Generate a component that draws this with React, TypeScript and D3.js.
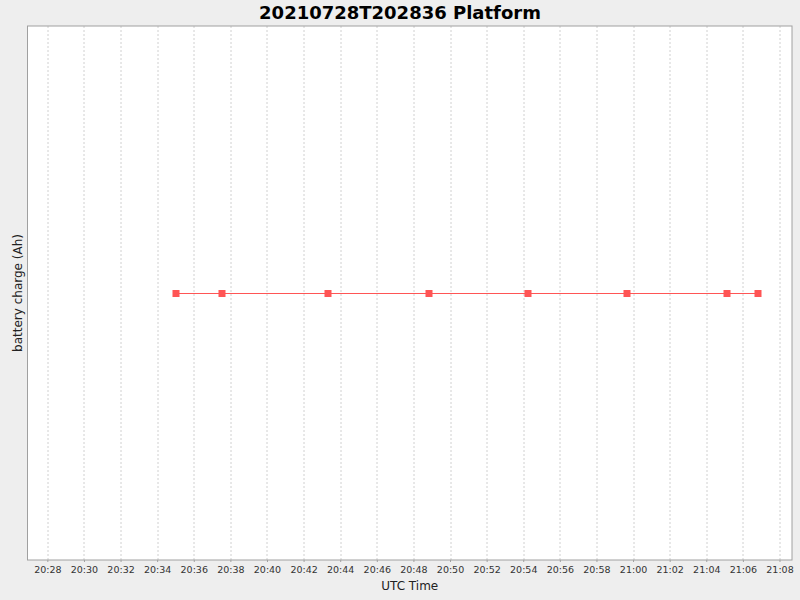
import { useEffect, useRef } from 'react';
import * as d3 from 'd3';

// sample times (UTC) and battery charge readings
const sampleTimes = [
	'2021-07-28T20:35:00Z',
	'2021-07-28T20:37:30Z',
	'2021-07-28T20:43:18Z',
	'2021-07-28T20:48:48Z',
	'2021-07-28T20:54:14Z',
	'2021-07-28T20:59:38Z',
	'2021-07-28T21:05:06Z',
	'2021-07-28T21:06:48Z',
];
const chargeValues = [100, 100, 100, 100, 100, 100, 100, 100];

const chartTitle = '20210728T202836 Platform';
const xLabel = 'UTC Time';
const yLabel = 'battery charge (Ah)';

const App = () => {
	const svgRef = useRef<SVGSVGElement>(null);

	useEffect(() => {
		if (!svgRef.current) return;
		const width = 800;
		const height = 600;
		const margin = { top: 26, right: 8, bottom: 40, left: 27.5 };
		const chartWidth = width - margin.left - margin.right;
		const chartHeight = height - margin.top - margin.bottom;

		const svg = d3.select(svgRef.current);
		svg.selectAll('*').remove();

		svg.append('rect').attr('width', width).attr('height', height).attr('fill', '#eeeeee');

		const data = sampleTimes.map((t, i) => ({ date: new Date(t), value: chargeValues[i] }));

		const xScale = d3
			.scaleUtc()
			.domain([new Date('2021-07-28T20:26:55Z'), new Date('2021-07-28T21:08:41Z')])
			.range([0, chartWidth]);

		const yScale = d3.scaleLinear().domain([99, 101]).range([chartHeight, 1]);

		const g = svg.append('g').attr('transform', `translate(${margin.left},${margin.top})`);

		g.append('rect').attr('width', chartWidth).attr('height', chartHeight).attr('fill', '#ffffff');

		const ticks = xScale.ticks(d3.utcMinute.every(2)!);

		// grid lines
		g.append('g')
			.selectAll('line')
			.data(ticks)
			.join('line')
			.attr('x1', (d) => Math.round(xScale(d)) + 0.5)
			.attr('x2', (d) => Math.round(xScale(d)) + 0.5)
			.attr('y1', 0)
			.attr('y2', chartHeight)
			.attr('stroke', '#d0d0d0')
			.attr('stroke-width', 1)
			.attr('stroke-dasharray', '2,2');

		// line
		const line = d3
			.line<{ date: Date; value: number }>()
			.x((d) => xScale(d.date))
			.y((d) => yScale(d.value));

		g.append('path')
			.datum(data)
			.attr('fill', 'none')
			.attr('stroke', '#ff5555')
			.attr('stroke-width', 1)
			.attr('d', line);

		g.append('g')
			.selectAll('rect')
			.data(data)
			.join('rect')
			.attr('x', (d) => Math.round(xScale(d.date)) - 3)
			.attr('y', (d) => yScale(d.value) - 3.5)
			.attr('width', 7)
			.attr('height', 7)
			.attr('fill', '#ff5555');

		// plot border
		g.append('rect')
			.attr('width', chartWidth)
			.attr('height', chartHeight)
			.attr('fill', 'none')
			.attr('stroke', '#a0a0a0')
			.attr('stroke-width', 1);

		// X axis
		const xAxis = g
			.append('g')
			.attr('transform', `translate(0,${chartHeight})`)
			.call(
				d3
					.axisBottom(xScale)
					.tickValues(ticks)
					.tickSize(2)
					.tickPadding(4)
					.tickFormat(d3.utcFormat('%H:%M') as any)
			);
		xAxis.select('.domain').remove();
		xAxis.selectAll('line').attr('stroke', '#a0a0a0');
		xAxis
			.selectAll('text')
			.style('font-family', 'DejaVu Sans, sans-serif')
			.style('font-size', '9.5px')
			.style('fill', '#333333');

		// axis labels
		svg.append('text')
			.attr('x', margin.left + chartWidth / 2)
			.attr('y', 590)
			.attr('text-anchor', 'middle')
			.style('font-family', 'DejaVu Sans, sans-serif')
			.style('font-size', '12px')
			.style('fill', '#222')
			.text(xLabel);

		svg.append('text')
			.attr('transform', `translate(22,${margin.top + chartHeight / 2}) rotate(-90)`)
			.attr('text-anchor', 'middle')
			.style('font-family', 'DejaVu Sans, sans-serif')
			.style('font-size', '12px')
			.style('fill', '#222')
			.text(yLabel);

		// title
		svg.append('text')
			.attr('x', 400)
			.attr('y', 18.5)
			.attr('text-anchor', 'middle')
			.style('font-family', 'DejaVu Sans, sans-serif')
			.style('font-size', '18px')
			.style('font-weight', 'bold')
			.style('fill', '#000')
			.text(chartTitle);
	}, []);

	return (
		<svg
			ref={svgRef}
			width={800}
			height={600}
			style={{ display: 'block', position: 'absolute', top: 0, left: 0 }}
		></svg>
	);
};

export default App;
